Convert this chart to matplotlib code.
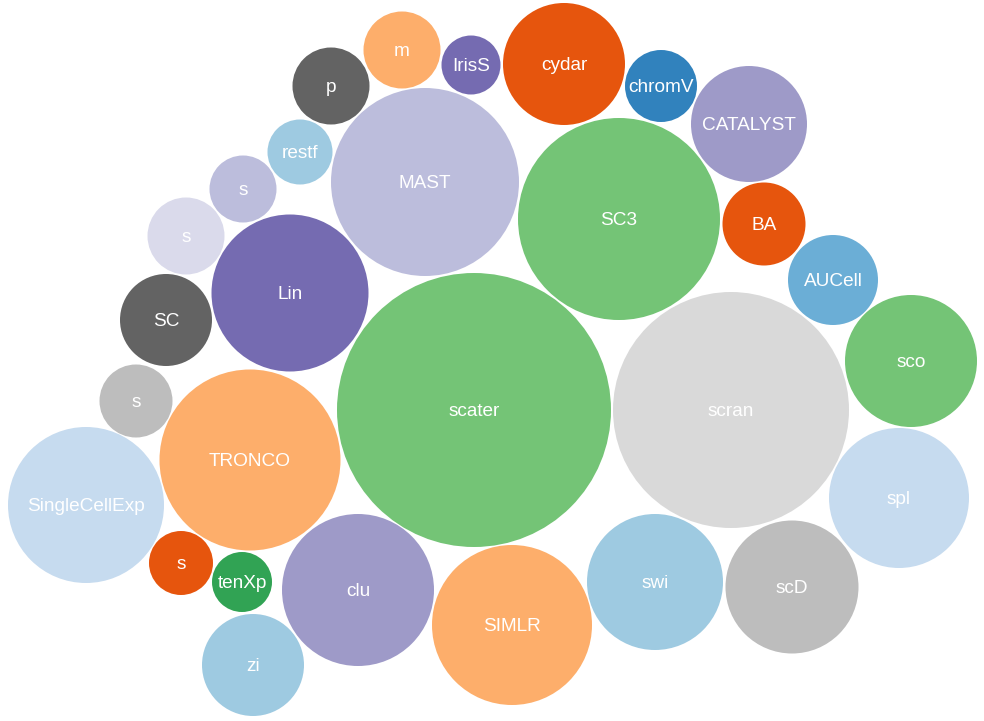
import matplotlib
matplotlib.use("Agg")
import matplotlib.pyplot as plt
from matplotlib.patches import Circle

# package bubbles (positions/radii, in pixels)
names = ["scater", "scran", "SC3", "MAST", "Lin", "TRONCO", "SingleCellExp",
         "clu", "SIMLR", "swi", "scD", "spl", "sco", "AUCell", "BA",
         "CATALYST", "chromV", "cydar", "IrisS", "m", "p", "restf",
         "s", "s", "SC", "s", "s", "tenXp", "zi"]
cx = [474, 731, 619, 425, 290, 250, 86, 358, 512, 655, 792, 899, 911, 833, 764,
      749, 661, 564, 471, 402, 331, 300, 243, 186, 166, 136, 181, 242, 253]
cy = [410, 410, 219, 182, 293, 460, 505, 590, 625, 582, 587, 498, 361, 280, 224,
      124, 86, 64, 65, 50, 86, 152, 189, 236, 320, 401, 563, 582, 665]
rad = [137, 118, 101, 94, 78.5, 90.5, 78, 76, 80, 68, 66.5, 70, 66, 45, 41.5,
       58, 36, 61, 29.5, 38.5, 38.5, 32.5, 33.5, 38.5, 46, 36.5, 32, 30, 51]
colors = ["#74c476", "#d9d9d9", "#74c476", "#bcbddc", "#756bb1", "#fdae6b",
          "#c6dbef", "#9e9ac8", "#fdae6b", "#9ecae1", "#bdbdbd", "#c6dbef",
          "#74c476", "#6baed6", "#e6550d", "#9e9ac8", "#3182bd", "#e6550d",
          "#756bb1", "#fdae6b", "#636363", "#9ecae1", "#bcbddc", "#dadaeb",
          "#636363", "#bdbdbd", "#e6550d", "#31a354", "#9ecae1"]

W, H = 984, 721
fig = plt.figure(figsize=(W / 100, H / 100), dpi=100)
ax = fig.add_axes([0, 0, 1, 1])
ax.set_xlim(0, W)
ax.set_ylim(H, 0)
ax.set_aspect("equal")
ax.axis("off")

fs_px = 19  # label size in pixels
for name, x, y, r, c in zip(names, cx, cy, rad, colors):
    ax.add_patch(Circle((x, y), r, facecolor=c, edgecolor="none"))
    ax.text(x, y + 0.3 * fs_px, name, ha="center", va="baseline",
            color="white", fontsize=fs_px * 72 / 100,
            family=["Liberation Sans", "DejaVu Sans"])

fig.savefig("out.png", dpi=100, facecolor="white")
